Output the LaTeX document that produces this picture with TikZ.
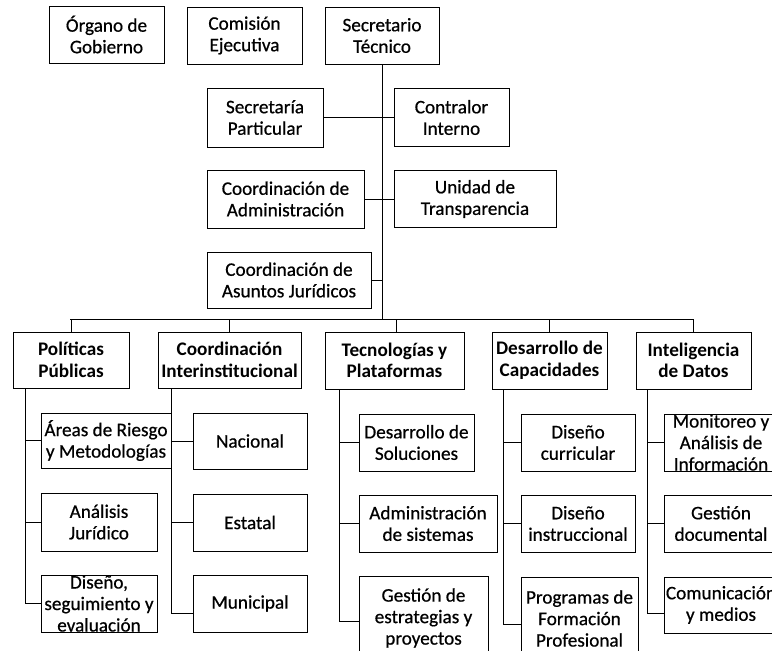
\documentclass[tikz,border=0pt]{standalone}
\usepackage{fontspec}
\setmainfont{Carlito}
\newfontfamily\scanfont[FakeBold=0.6]{Carlito}
\begin{document}
\begin{tikzpicture}[x=1pt,y=-1pt,
  box/.style={draw, line width=0.9pt, align=center, inner sep=0pt,
    font=\scanfont\fontsize{19.2}{21.5}\selectfont},
  head/.style={box, font=\fontsize{19.2}{21.5}\selectfont\bfseries},
  link/.style={line width=1pt}]
\useasboundingbox (0,0) rectangle (772,651);
\clip (0,0) rectangle (772,651);
% top level
\node[box, minimum width=115, minimum height=57] (org) at (106.5,34.5) {Órgano de\\Gobierno};
\node[box, minimum width=115, minimum height=57] (com) at (244.5,35.5) {Comisión\\Ejecutiva};
\node[box, minimum width=114, minimum height=57] (sec) at (382,35.5) {Secretario\\Técnico};
\node[box, minimum width=116, minimum height=59] (spart) at (265,117.5) {Secretaría\\Particular};
\node[box, minimum width=115, minimum height=58] (contr) at (451.5,117.5) {Contralor\\Interno};
\node[box, minimum width=157, minimum height=58] (cadm) at (285.5,199) {Coordinación de\\Administración};
\node[box, minimum width=162, minimum height=57] (utrans) at (475,199) {Unidad de\\Transparencia};
\node[box, minimum width=164, minimum height=56] (cjur) at (289,280) {Coordinación de\\Asuntos Jurídicos};
% departments
\node[head, minimum width=116, minimum height=56] (pol) at (71,360) {Políticas\\Públicas};
\node[head, minimum width=143, minimum height=56] (cint) at (229.5,360) {Coordinación\\Interinstitucional};
\node[head, minimum width=139, minimum height=57] (tec) at (394.5,360.5) {Tecnologías y\\Plataformas};
\node[head, minimum width=115, minimum height=57] (dcap) at (549.5,360.5) {Desarrollo de\\Capacidades};
\node[head, minimum width=115, minimum height=57] (intel) at (693.5,360.5) {Inteligencia\\de Datos};
% children
\node[box, minimum width=130, minimum height=55] (areas) at (106,440.5) {Áreas de Riesgo\\y Metodologías};
\node[box, minimum width=116, minimum height=58] (anal) at (99,522) {Análisis\\Jurídico};
\node[box, minimum width=116, minimum height=57] (dis) at (99,603.5) {Diseño,\\seguimiento y\\evaluación};
\node[box, minimum width=114, minimum height=56] (nac) at (250,441) {Nacional};
\node[box, minimum width=114, minimum height=57] (est) at (250,522.5) {Estatal};
\node[box, minimum width=114, minimum height=57] (mun) at (250,603.5) {Municipal};
\node[box, minimum width=115, minimum height=57] (dsol) at (416.5,442.5) {Desarrollo de\\Soluciones};
\node[box, minimum width=138, minimum height=57] (adms) at (428,523.5) {Administración\\de sistemas};
\node[box, minimum width=129, minimum height=84] (gest) at (423.5,618) {Gestión de\\estrategias y\\proyectos};
\node[box, minimum width=114, minimum height=57] (dcur) at (578,442.5) {Diseño\\curricular};
\node[box, minimum width=114, minimum height=57] (dins) at (578,523.5) {Diseño\\instruccional};
\node[box, minimum width=117, minimum height=83] (prog) at (579.5,618.5) {Programas de\\Formación\\Profesional};
\node[box, minimum width=114, minimum height=57] (mon) at (721,442.5) {Monitoreo y\\Análisis de\\Información};
\node[box, minimum width=114, minimum height=57] (gdoc) at (721,523.5) {Gestión\\documental};
\node[box, minimum width=114, minimum height=56] (comm) at (721,605) {Comunicación\\y medios};
% connectors
\coordinate (busL) at (70,319);
\coordinate (busR) at (693.5,319);
\draw[link] (sec.south) -- (sec.south |- busL);
\draw[link] (busL) -- (busR);
\draw[link] (spart.east) -- (contr.west);
\draw[link] (cadm.east) -- (utrans.west);
\draw[link] (cjur.east) -- (cjur.east -| sec.south);
\foreach \d in {pol,cint,dcap,intel}{\draw[link] (\d.north) -- (\d.north |- busL);}
\draw[link] ([xshift=1.5pt]tec.north) -- ([xshift=1.5pt]tec.north |- busL);
\coordinate (cpol) at ([xshift=13pt]pol.south west);
\coordinate (ccint) at ([xshift=14pt]cint.south west);
\coordinate (ctec) at ([xshift=15pt]tec.south west);
\coordinate (cdcap) at ([xshift=12pt]dcap.south west);
\coordinate (cintel) at ([xshift=12pt]intel.south west);
\foreach \c in {areas,anal,dis}{\draw[link] (cpol) |- (\c.west);}
\foreach \c in {nac,est}{\draw[link] (ccint) |- (\c.west);}
\draw[link] (ccint) |- ([yshift=-9.5pt]mun.west);
\foreach \c in {dsol,adms}{\draw[link] (ctec) |- (\c.west);}
\draw[link] (ctec) |- ([yshift=-3pt]gest.west);
\foreach \c in {dcur,dins}{\draw[link] (cdcap) |- (\c.west);}
\draw[link] (cdcap) |- ([yshift=-5.5pt]prog.west);
\foreach \c in {mon,gdoc}{\draw[link] (cintel) |- (\c.west);}
\draw[link] (cintel) |- ([yshift=-8pt]comm.west);
\end{tikzpicture}
\end{document}
